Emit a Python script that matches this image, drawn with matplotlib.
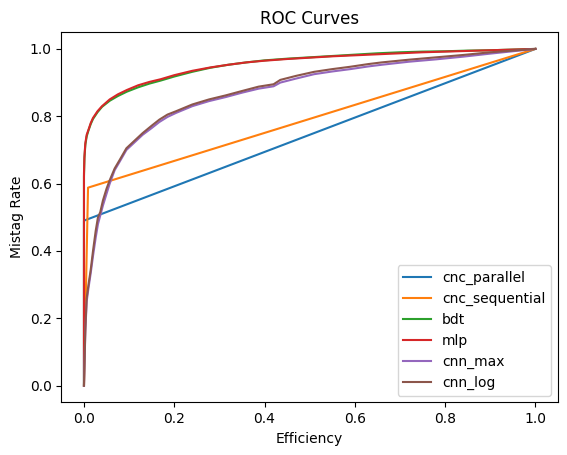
import matplotlib
matplotlib.use("Agg")
from matplotlib import pyplot as plt

# roc points
par_x = [0, 0, 1.0]
par_y = [0, 0.49, 1.0]

seq_x = [0, 0.009, 1.0]
seq_y = [0, 0.588, 1.0]

mlp_x = [0, 0, 0.001, 0.003, 0.006, 0.01, 0.015, 0.02, 0.03, 0.04, 0.057, 0.075, 0.095, 0.12, 0.145, 0.17,
         0.2, 0.24, 0.28, 0.32, 0.36, 0.4, 0.45, 0.5, 0.55, 0.6, 0.65, 0.7, 0.75, 0.8, 0.85, 0.9, 0.95, 1.0]
mlp_y = [0, 0.63, 0.68, 0.72, 0.745, 0.76, 0.78, 0.795, 0.815, 0.83, 0.85, 0.865, 0.878, 0.892, 0.902, 0.91,
         0.922, 0.935, 0.945, 0.953, 0.96, 0.965, 0.97, 0.974, 0.978, 0.981, 0.984, 0.987, 0.99, 0.992, 0.994, 0.996, 0.998, 1.0]

bdt_x = [0, 0, 0.001, 0.003, 0.006, 0.01, 0.015, 0.02, 0.03, 0.04, 0.057, 0.075, 0.095, 0.12, 0.145, 0.17,
         0.2, 0.24, 0.28, 0.32, 0.36, 0.4, 0.45, 0.5, 0.55, 0.6, 0.65, 0.7, 0.75, 0.8, 0.85, 0.9, 0.95, 1.0]
bdt_y = [0, 0.62, 0.675, 0.715, 0.74, 0.758, 0.777, 0.792, 0.812, 0.828, 0.846, 0.86, 0.873, 0.886, 0.897, 0.906,
         0.918, 0.932, 0.944, 0.953, 0.96, 0.966, 0.971, 0.975, 0.979, 0.983, 0.987, 0.99, 0.992, 0.993, 0.995, 0.996, 0.998, 1.0]

log_x = [0, 0.003, 0.006, 0.01, 0.015, 0.02, 0.026, 0.031, 0.036, 0.042, 0.05, 0.057, 0.068, 0.079, 0.094,
         0.11, 0.13, 0.15, 0.167, 0.185, 0.204, 0.24, 0.277, 0.314, 0.35, 0.387, 0.42, 0.435, 0.47, 0.51,
         0.55, 0.59, 0.63, 0.66, 0.72, 0.78, 0.84, 0.9, 0.95, 1.0]
log_y = [0, 0.17, 0.26, 0.30, 0.345, 0.40, 0.46, 0.50, 0.515, 0.55, 0.585, 0.61, 0.645, 0.67, 0.705,
         0.725, 0.75, 0.772, 0.79, 0.805, 0.815, 0.835, 0.85, 0.862, 0.875, 0.888, 0.895, 0.908, 0.92, 0.932,
         0.94, 0.947, 0.955, 0.96, 0.968, 0.975, 0.982, 0.99, 0.995, 1.0]

max_x = [0, 0.003, 0.006, 0.01, 0.015, 0.02, 0.026, 0.031, 0.036, 0.042, 0.05, 0.057, 0.068, 0.079, 0.094,
         0.11, 0.13, 0.15, 0.167, 0.185, 0.204, 0.24, 0.277, 0.314, 0.35, 0.387, 0.42, 0.435, 0.47, 0.51,
         0.55, 0.59, 0.63, 0.66, 0.72, 0.78, 0.84, 0.9, 0.95, 1.0]
max_y = [0, 0.16, 0.25, 0.29, 0.335, 0.385, 0.44, 0.48, 0.505, 0.535, 0.57, 0.6, 0.64, 0.665, 0.7,
         0.72, 0.745, 0.765, 0.783, 0.798, 0.81, 0.83, 0.845, 0.857, 0.87, 0.882, 0.889, 0.9, 0.912, 0.925,
         0.933, 0.94, 0.948, 0.953, 0.962, 0.969, 0.977, 0.986, 0.993, 1.0]

curves = [
    ("cnc_parallel", par_x, par_y),
    ("cnc_sequential", seq_x, seq_y),
    ("bdt", bdt_x, bdt_y),
    ("mlp", mlp_x, mlp_y),
    ("cnn_max", max_x, max_y),
    ("cnn_log", log_x, log_y),
]

fig = plt.figure(figsize=(5.67, 4.55), dpi=100)
ax = fig.add_axes([0.1083, 0.1154, 0.8757, 0.8141])
for name, xs, ys in curves:
    ax.plot(xs, ys, label=name)

ax.set_title("ROC Curves")
ax.set_xlabel("Efficiency")
ax.set_ylabel("Mistag Rate")
ax.legend(loc="lower right")

fig.savefig("out.png", dpi=100)
